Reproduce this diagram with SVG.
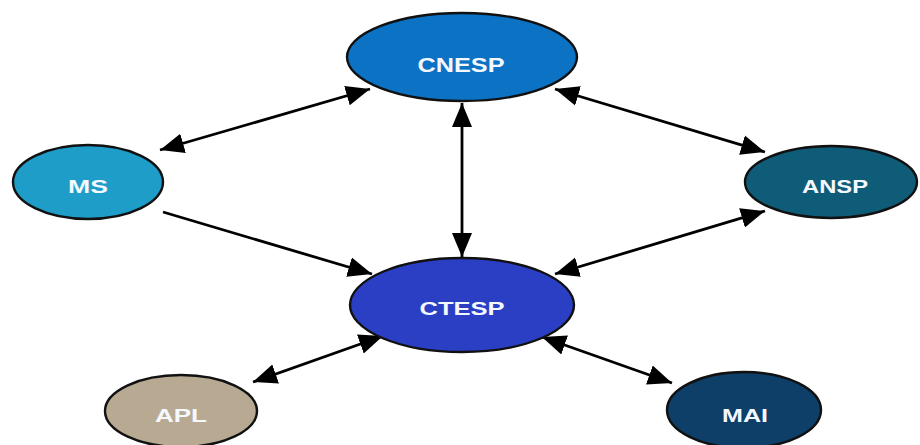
<svg xmlns="http://www.w3.org/2000/svg" width="920" height="445" viewBox="0 0 920 445">
  <style>
    .node { stroke: #111; stroke-width: 2.4; }
    .label { font-family: "Liberation Sans", Arial, sans-serif; font-weight: bold; fill: #f4f8ff; text-anchor: middle; }
    .edge { stroke: #000; stroke-width: 2.8; fill: none; }
  </style>
  <defs>
    <marker id="head" markerUnits="userSpaceOnUse" markerWidth="25" markerHeight="21" refX="24" refY="10" orient="auto-start-reverse" viewBox="0 0 25 20">
      <path d="M0,0 L24,10 L0,20 z" fill="#000"/>
    </marker>
  </defs>

  <rect width="920" height="445" fill="#fff"/>

  <!-- connectors -->
  <g id="connectors">
    <line class="edge" x1="160" y1="150" x2="370" y2="89" marker-start="url(#head)" marker-end="url(#head)"/>
    <line class="edge" x1="555" y1="89" x2="765" y2="152" marker-start="url(#head)" marker-end="url(#head)"/>
    <line class="edge" x1="462" y1="103" x2="462" y2="257" marker-start="url(#head)" marker-end="url(#head)"/>
    <line class="edge" x1="163" y1="212" x2="372" y2="274" marker-end="url(#head)"/>
    <line class="edge" x1="765" y1="211" x2="555" y2="274" marker-start="url(#head)" marker-end="url(#head)"/>
    <line class="edge" x1="383" y1="336" x2="253" y2="382" marker-start="url(#head)" marker-end="url(#head)"/>
    <line class="edge" x1="542" y1="337" x2="672" y2="383" marker-start="url(#head)" marker-end="url(#head)"/>
  </g>

  <g id="cnesp">
    <ellipse class="node" cx="462" cy="57" rx="115" ry="44" fill="#0b72c4"/>
    <text class="label" x="461" y="72" font-size="21" textLength="87" lengthAdjust="spacingAndGlyphs">CNESP</text>
  </g>
  <g id="ms">
    <ellipse class="node" cx="88" cy="182" rx="75" ry="37" fill="#1e9dc9"/>
    <text class="label" x="88" y="193" font-size="19" textLength="40" lengthAdjust="spacingAndGlyphs">MS</text>
  </g>
  <g id="ansp">
    <ellipse class="node" cx="831" cy="182" rx="86" ry="36" fill="#0f5c78"/>
    <text class="label" x="835" y="193" font-size="19" textLength="66" lengthAdjust="spacingAndGlyphs">ANSP</text>
  </g>
  <g id="ctesp">
    <ellipse class="node" cx="462" cy="305" rx="112" ry="47" fill="#2a3fc4"/>
    <text class="label" x="462" y="315" font-size="19" textLength="85" lengthAdjust="spacingAndGlyphs">CTESP</text>
  </g>
  <g id="apl">
    <ellipse class="node" cx="181" cy="411" rx="76" ry="36" fill="#b8aa92"/>
    <text class="label" x="181" y="422" font-size="19" textLength="52" lengthAdjust="spacingAndGlyphs">APL</text>
  </g>
  <g id="mai">
    <ellipse class="node" cx="744" cy="410" rx="77" ry="38" fill="#0d3f68"/>
    <text class="label" x="745" y="422" font-size="19" textLength="46" lengthAdjust="spacingAndGlyphs">MAI</text>
  </g>
</svg>
